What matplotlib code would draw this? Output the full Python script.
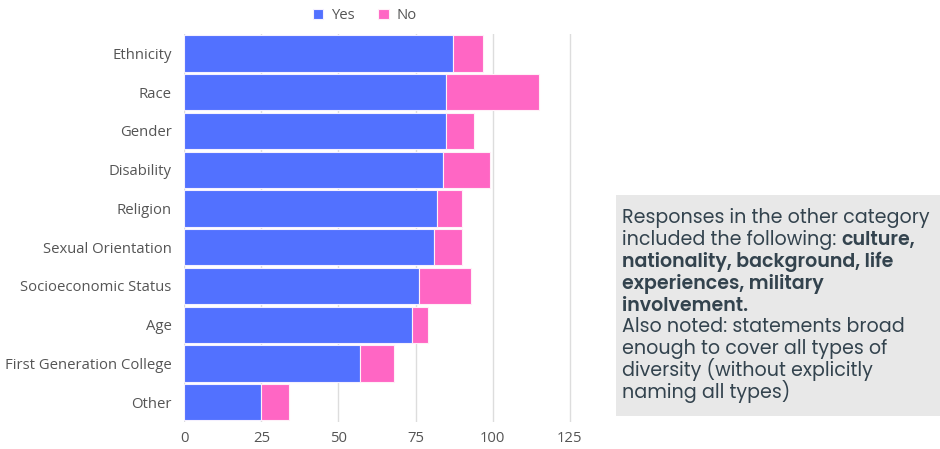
import matplotlib.pyplot as plt
from matplotlib.patches import Rectangle
import numpy as np

plt.rcParams["font.family"] = ["Open Sans", "DejaVu Sans"]

categories = ["Ethnicity", "Race", "Gender", "Disability", "Religion",
              "Sexual Orientation", "Socioeconomic Status", "Age",
              "First Generation College", "Other"]
yes = [87, 85, 85, 84, 82, 81, 76, 74, 57, 25]
no = [10, 30, 9, 15, 8, 9, 17, 5, 11, 9]

BLUE = "#5271ff"
PINK = "#ff66c4"
GRAY = "#555555"
TXT = "#33434e"

fig = plt.figure(figsize=(9.4, 4.49), dpi=100)
ax = fig.add_axes([0.196, 0.061, 0.42, 0.863])

y = np.arange(len(categories))
ax.barh(y, yes, 0.94, color=BLUE, edgecolor="#f4f0ff", linewidth=0.8, label="Yes", zorder=3)
ax.barh(y, no, 0.94, left=yes, color=PINK, edgecolor="#fff0f8", linewidth=0.8, label="No", zorder=3)

ax.set_xlim(0, 128)
ax.set_ylim(len(categories) - 0.5, -0.5)
ax.set_xticks([0, 25, 50, 75, 100, 125])
ax.set_yticks(y, categories)
ax.grid(axis="x", color="#dddddd", linewidth=1, zorder=0)
for s in ax.spines.values():
    s.set_visible(False)
ax.tick_params(length=0, colors=GRAY, labelsize=10.7)
ax.tick_params(axis="x", pad=7)
ax.tick_params(axis="y", pad=9)

h, l = ax.get_legend_handles_labels()
fig.legend(h, l, loc="upper center", bbox_to_anchor=(0.388, 1.012), ncol=2, frameon=False,
           fontsize=10.7, handlelength=0.7, handleheight=0.7, columnspacing=1.6,
           handletextpad=0.5, labelcolor=GRAY)

# note box
fig.patches.append(Rectangle((616 / 940, 1 - 416 / 449), 324 / 940, 221 / 449,
                             transform=fig.transFigure, facecolor="#e8e8e8",
                             edgecolor="none", zorder=0))

fs = 13.7
lh = 21.9 / 449
x0 = 622 / 940
top = 1 - 223 / 449
lines = [
    ("Responses in the other category", None),
    ("included the following: ", "culture,"),
    (None, "nationality, background, life"),
    (None, "experiences, military"),
    (None, "involvement."),
    ("Also noted: statements broad", None),
    ("enough to cover all types of", None),
    ("diversity (without explicitly", None),
    ("naming all types)", None),
]
font = ["Poppins", "Lato", "DejaVu Sans"]
renderer = fig.canvas.get_renderer()
for i, (reg, bold) in enumerate(lines):
    yy = top - i * lh
    if reg is not None:
        t = fig.text(x0, yy, reg, fontsize=fs, color=TXT, family=font, va="baseline")
        if bold is not None:
            bb = t.get_window_extent(renderer=renderer)
            fig.text(bb.x1 / fig.bbox.width, yy, bold, fontsize=fs, color=TXT,
                     family=font, fontweight="semibold", va="baseline")
    else:
        fig.text(x0, yy, bold, fontsize=fs, color=TXT, family=font,
                 fontweight="semibold", va="baseline")

fig.savefig("out.png", dpi=100)
